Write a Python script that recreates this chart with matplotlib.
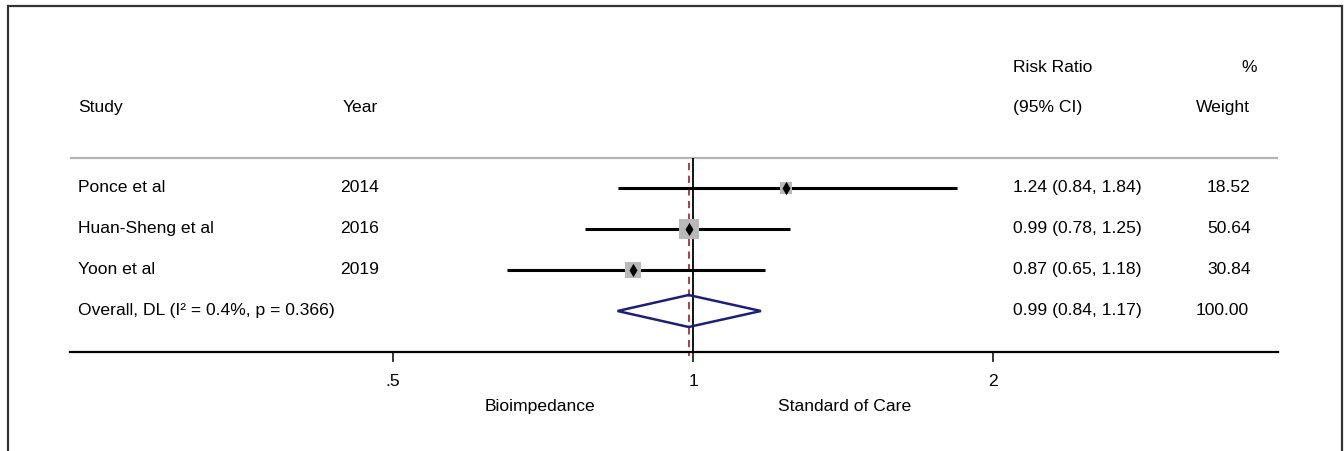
import numpy as np
import matplotlib
matplotlib.use("Agg")
import matplotlib.pyplot as plt
from matplotlib.patches import Rectangle, Polygon
from matplotlib.transforms import blended_transform_factory

plt.rcParams['font.family'] = ['Liberation Sans', 'DejaVu Sans']

# ---- data ----
studies = ["Ponce et al", "Huan-Sheng et al", "Yoon et al"]
years = ["2014", "2016", "2019"]
rr = [1.24, 0.99, 0.87]
lo = [0.84, 0.78, 0.65]
hi = [1.84, 1.25, 1.18]
weights = [18.52, 50.64, 30.84]
overall_label = "Overall, DL (I\u00b2 = 0.4%, p = 0.366)"
overall = [0.99, 0.84, 1.17]
overall_weight = 100.00
xticks = [0.5, 1, 2]
xticklabels = [".5", "1", "2"]
left_label = "Bioimpedance"
right_label = "Standard of Care"

W, H = 1344, 451
fig = plt.figure(figsize=(W / 100, H / 100), dpi=100)

# axes spanning pixel x 70..1278 and full height
ax = fig.add_axes([70 / W, 0, (1278 - 70) / W, 1])
ax.set_facecolor('none')
ax.set_xscale('log', base=2)
xl = 2 ** ((70 - 693) / 300)
xr = 2 ** ((1278 - 693) / 300)
ax.set_xlim(xl, xr)
# row r at pixel 188 + 41 r
def r_of(py):
    return (py - 188) / 41
ax.set_ylim(r_of(H), r_of(0))

for s in ['top', 'left', 'right']:
    ax.spines[s].set_visible(False)
ax.spines['bottom'].set_position(('data', r_of(352)))
ax.spines['bottom'].set_linewidth(1.6)
ax.set_yticks([])
ax.set_xticks(xticks)
ax.set_xticklabels(xticklabels)
ax.xaxis.set_minor_locator(matplotlib.ticker.NullLocator())
ax.tick_params(axis='x', direction='out', length=7.5, width=1.1, pad=8,
               labelsize=12.6, colors='black')

fs = 12.6
# gray separator
ax.axhline(r_of(158), color='#b4b4b4', lw=1.6)
# null line
ax.vlines(1, r_of(158), r_of(352), color='black', lw=1.3)
# overall dashed line
ax.vlines(overall[0], r_of(163), r_of(356), color='#b02a38', lw=1.3,
          linestyles=(0, (4, 3)))

rows = np.arange(len(studies))
for i in rows:
    ax.hlines(i, lo[i], hi[i], color='black', lw=2.2, zorder=2)
    side_px = 2.85 * np.sqrt(weights[i])
    ax.scatter(rr[i], i, marker='s', s=(side_px * 0.72) ** 2,
               color='#b9b9b9', zorder=3, linewidths=0)
    ax.scatter(rr[i], i, marker='d', s=46, color='black', zorder=4,
               linewidths=0)

# overall diamond
yo = len(studies)
dh = 0.39
diamond = Polygon([[overall[1], yo], [overall[0], yo - dh], [overall[2], yo],
                   [overall[0], yo + dh]], closed=True, fill=False,
                  edgecolor='#1b1f7a', lw=1.8, zorder=5)
ax.add_patch(diamond)

# text columns
tr = blended_transform_factory(fig.transFigure, ax.transData)
def px(x):
    return x / W

ax.text(px(1013), r_of(68), "Risk Ratio", transform=tr, ha='left', va='center', fontsize=fs)
ax.text(px(1257), r_of(68), "%", transform=tr, ha='right', va='center', fontsize=fs)
ax.text(px(78), r_of(108), "Study", transform=tr, ha='left', va='center', fontsize=fs)
ax.text(px(343), r_of(108), "Year", transform=tr, ha='left', va='center', fontsize=fs)
ax.text(px(1013), r_of(108), "(95% CI)", transform=tr, ha='left', va='center', fontsize=fs)
ax.text(px(1250), r_of(108), "Weight", transform=tr, ha='right', va='center', fontsize=fs)

for i in rows:
    ax.text(px(78), i, studies[i], transform=tr, ha='left', va='center', fontsize=fs)
    ax.text(px(340), i, years[i], transform=tr, ha='left', va='center', fontsize=fs)
    ax.text(px(1013), i, f"{rr[i]:.2f} ({lo[i]:.2f}, {hi[i]:.2f})", transform=tr,
            ha='left', va='center', fontsize=fs)
    ax.text(px(1251), i, f"{weights[i]:.2f}", transform=tr, ha='right',
            va='center', fontsize=fs)

ax.text(px(78), yo, overall_label, transform=tr, ha='left', va='center', fontsize=fs)
ax.text(px(1013), yo, f"{overall[0]:.2f} ({overall[1]:.2f}, {overall[2]:.2f})",
        transform=tr, ha='left', va='center', fontsize=fs)
ax.text(px(1249), yo, f"{overall_weight:.2f}", transform=tr, ha='right',
        va='center', fontsize=fs)

ax.text(px(540), r_of(407), left_label, transform=tr, ha='center', va='center', fontsize=fs)
ax.text(px(845), r_of(407), right_label, transform=tr, ha='center', va='center', fontsize=fs)

# outer frame
fig.add_artist(Rectangle((7.5 / W, -0.1), (1342 - 7.5) / W, 1 - 5.5 / H + 0.1,
                         transform=fig.transFigure, fill=False,
                         edgecolor='#333333', lw=1.6))

fig.savefig("out.png", dpi=100)
